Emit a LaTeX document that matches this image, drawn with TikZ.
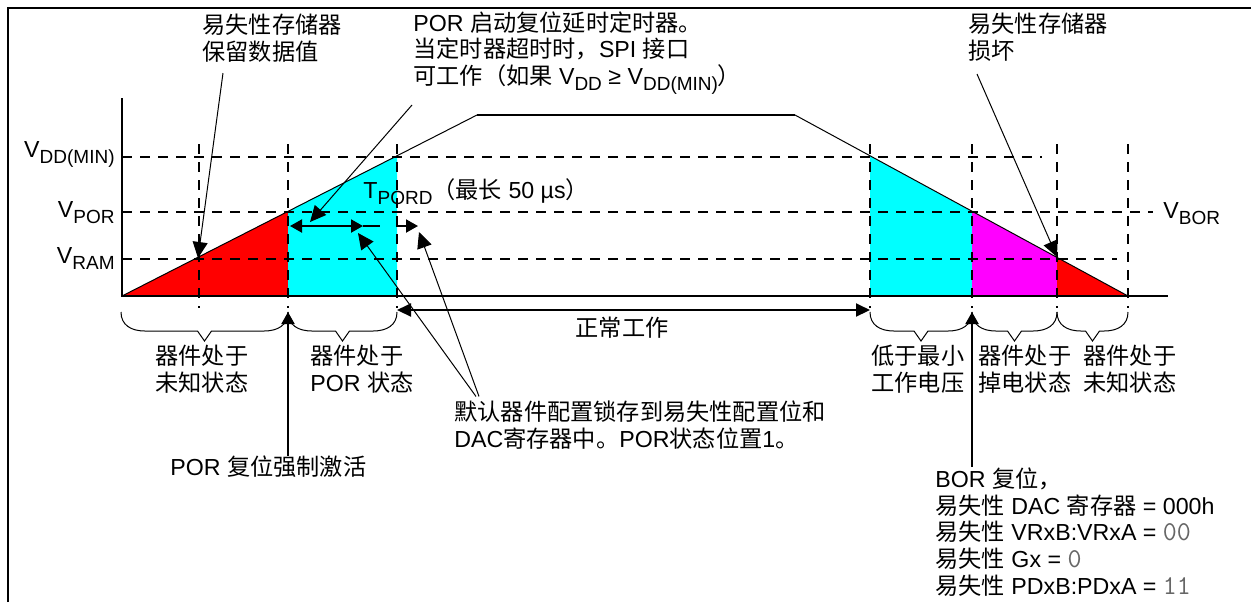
\documentclass[tikz,border=0pt]{standalone}
\usepackage{fontspec}
\setmainfont{Liberation Sans}
\newfontfamily\zh{Noto Sans CJK SC}
\usetikzlibrary{arrows.meta,calc}

\definecolor{lowred}{RGB}{255,0,0}
\definecolor{porcyan}{RGB}{0,255,255}
\definecolor{bormagenta}{RGB}{255,0,255}

\newcommand{\lowtxt}[1]{\raisebox{-3pt}{\fontsize{9.5}{10}\selectfont #1}}
\newcommand{\regval}[1]{{\ttfamily\fontsize{13.6}{13.4}\selectfont\color{black!60}#1}}

\begin{document}
\begin{tikzpicture}[
        x=0.5pt, y=-0.5pt,
        font=\fontsize{11.6}{13.4}\selectfont,
        % Styles
        txt/.style={inner sep=0pt, align=left},
        guide/.style={line width=1pt, dash pattern=on 5pt off 4pt},
        axisline/.style={line width=1pt},
        wave/.style={line width=0.5pt},
        callout/.style={line width=0.5pt, -{Triangle[length=8pt,width=7.5pt]}},
        bigarrow/.style={line width=1pt, -{Triangle[length=6pt,width=6.5pt]}},
        period/.style={line width=1pt, {Triangle[length=6pt,width=6.5pt]}-{Triangle[length=6pt,width=6.5pt]}},
        runarrow/.style={line width=1pt, {Triangle[length=7pt,width=6.5pt]}-{Triangle[length=7pt,width=6.5pt]}},
        curly/.style={line width=0.5pt, to path={.. controls +(0,13) and +(-14,0) .. ($(\tikztostart)+(24,19)$)
            -- ($(\tikztostart)!.5!(\tikztotarget)+(-7,19)$) -- ++(7,10) -- ++(7,-10)
            -- ($(\tikztotarget)+(-24,19)$) .. controls +(14,0) and +(0,13) .. (\tikztotarget)}}
    ]
    \useasboundingbox (0,0) rectangle (1251,602);

    % ================= FRAME =================
    \draw[line width=1.35pt] (8,602) -- (8,8) -- (1251,8);

    % ================= STATE AREAS =================
    \fill[lowred] (122,296) -- (288,211.3) -- (288,296) -- cycle;
    \fill[porcyan] (288,296) -- (288,211.3) -- (397,155.8) -- (397,296) -- cycle;
    \fill[porcyan] (870,296) -- (870,156) -- (972,211.5) -- (972,296) -- cycle;
    \fill[bormagenta] (972,296) -- (972,211.5) -- (1057,257.5) -- (1057,296) -- cycle;
    \fill[lowred] (1057,296) -- (1057,257.5) -- (1128,296) -- cycle;

    % ================= GUIDE LINES =================
    \draw[guide] (122,157) -- (1042,157);
    \draw[guide] (122,212) -- (1153,212);
    \draw[guide] (122,259) -- (1117,259);
    \foreach \x in {199,288,397,870,972,1057,1128}
        \draw[guide] (\x,144) -- (\x,308);

    % ================= SUPPLY CURVE =================
    \draw[wave] (122,296) -- (477,115);
    \draw[axisline] (477,115) -- (795,115);
    \draw[wave] (795,115) -- (1128,296);
    \draw[axisline] (122,98) -- (122,296) -- (1168,296);

    % ================= LEVEL LABELS =================
    \node[txt, anchor=base east] (vddmin) at (115,157) {V\lowtxt{DD(MIN)}};
    \node[txt, anchor=base east] (vpor) at (115,217) {V\lowtxt{POR}};
    \node[txt, anchor=base east] (vram) at (115,263) {V\lowtxt{RAM}};
    \node[txt, anchor=base west] (vbor) at (1163,218) {V\lowtxt{BOR}};
    \node[txt, anchor=base west] (tpord) at (363,198) {T\lowtxt{PORD}{\zh （最长} 50 µs{\zh ）}};

    % ================= NOTES =================
    \node[txt, anchor=west] (keep) at (202,38.5) {{\zh 易失性存储器}\\{\zh 保留数据值}};
    \node[txt, anchor=west] (timer) at (413,53) {POR {\zh 启动复位延时定时器。}\\{\zh 当定时器超时时，}SPI {\zh 接口}\\{\zh 可工作（如果} V\lowtxt{DD} ≥ V\lowtxt{DD(MIN)}{\zh ）}};
    \node[txt, anchor=west] (lost) at (968,37.5) {{\zh 易失性存储器}\\{\zh 损坏}};
    \node[txt] (normal) at (622,328) {\zh 正常工作};

    % state names under the braces
    \node[txt, anchor=west] (unk1) at (155,369) {{\zh 器件处于}\\{\zh 未知状态}};
    \node[txt, anchor=west] (porst) at (310,369) {{\zh 器件处于}\\POR {\zh 状态}};
    \node[txt, anchor=west] (lowv) at (871,369) {{\zh 低于最小}\\{\zh 工作电压}};
    \node[txt, anchor=west] (down) at (978,369) {{\zh 器件处于}\\{\zh 掉电状态}};
    \node[txt, anchor=west] (unk2) at (1083,369) {{\zh 器件处于}\\{\zh 未知状态}};

    \node[txt, anchor=west] (latch) at (454,425) {{\zh 默认器件配置锁存到易失性配置位和}\\DAC{\zh 寄存器中。}POR{\zh 状态位置}1{\zh 。}};
    \node[txt, anchor=west] (porfrc) at (170,467) {POR {\zh 复位强制激活}};
    \node[txt, anchor=west] (bor) at (935,532) {BOR {\zh 复位，}\\{\zh 易失性} DAC {\zh 寄存器} = 000h\\{\zh 易失性} VRxB:VRxA = \regval{00}\\{\zh 易失性} Gx = \regval{0}\\{\zh 易失性} PDxB:PDxA = \regval{11}};

    % ================= POINTS =================
    \coordinate (b0) at (121,312);
    \coordinate (b1) at (288,312);
    \coordinate (b2) at (397,312);
    \coordinate (b3) at (870,312);
    \coordinate (b4) at (972,312);
    \coordinate (b5) at (1057,312);
    \coordinate (b6) at (1128,312);
    \coordinate (run0) at (397,310);
    \coordinate (run1) at (870,310);
    \coordinate (tp0) at (290,226);
    \coordinate (tp1) at (363,226);
    \coordinate (tp2) at (380,226);
    \coordinate (tp3) at (396,226);
    \coordinate (tp4) at (418,226);
    \coordinate (ram) at (198,258);
    \coordinate (tq) at (310,222);
    \coordinate (lh1) at (358,233);
    \coordinate (lh2) at (419,232);
    \coordinate (bad) at (1057,257);

    % ================= BRACES AND ARROWS =================
    \draw[curly] (b0) to (b1);
    \draw[curly] (b1) to (b2);
    \draw[curly] (b3) to (b4);
    \draw[curly] (b4) to (b5);
    \draw[curly] (b5) to (b6);

    \draw[runarrow] (run0) -- (run1);
    \draw[period] (tp0) -- (tp1);
    \draw[line width=1pt] (tp1) -- (tp2);
    \draw[bigarrow] (tp3) -- (tp4);

    \draw[bigarrow] (porfrc.north -| b1) -- (b1);
    \draw[bigarrow] (bor.north -| b4) -- (b4);

    \draw[callout] ([xshift=10.5pt,yshift=-5pt]keep.south west) -- (ram);
    \draw[callout] ([xshift=-0.5pt,yshift=-5pt]timer.south west) -- (tq);
    \draw[callout] ([xshift=4.5pt,yshift=-6pt]lost.south west) -- (bad);
    \draw[callout] ([xshift=11pt,yshift=2pt]latch.north west) -- (lh1);
    \draw[callout] ([xshift=12.5pt,yshift=2pt]latch.north west) -- (lh2);

\end{tikzpicture}
\end{document}
